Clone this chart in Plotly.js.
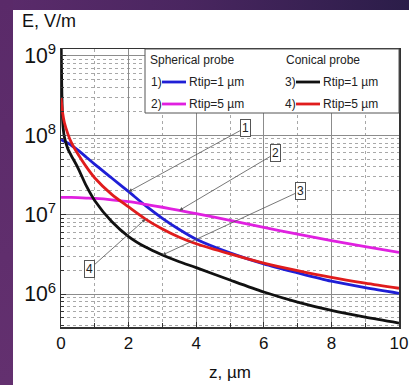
<!DOCTYPE html>
<html><head><meta charset="utf-8">
<script src="https://cdn.plot.ly/plotly-3.0.1.min.js"></script>
<style>
html,body{margin:0;padding:0;width:409px;height:385px;overflow:hidden;}
body{background:linear-gradient(90deg,#5b2b6b 0%,#4a2660 45%,#2b1d49 100%);}
#left{position:absolute;left:0;top:0;width:13px;height:385px;background:linear-gradient(180deg,#5a2a69,#63306f);}
#chart{position:absolute;left:13px;top:10px;width:396px;height:375px;background:#fff;}
</style></head>
<body>
<div id="left"></div>
<div id="chart"></div>
<script>
// ---- data ----
const z = [0, 0.05, 0.1, 0.2, 0.3, 0.5, 0.75, 1, 1.5, 2, 2.5, 3, 3.5, 4, 5, 6, 7, 8, 9, 10];
// 1) spherical probe, Rtip = 1 µm
const sph1 = [8.8e7, 8.6e7, 8.4e7, 8.0e7, 7.5e7, 6.5e7, 5.3e7, 4.3e7, 2.9e7, 1.95e7, 1.3e7, 9.0e6, 6.5e6, 4.9e6, 3.3e6, 2.4e6, 1.85e6, 1.45e6, 1.2e6, 1.02e6];
// 2) spherical probe, Rtip = 5 µm
const sph5 = [1.65e7, 1.65e7, 1.65e7, 1.65e7, 1.65e7, 1.64e7, 1.62e7, 1.6e7, 1.54e7, 1.46e7, 1.35e7, 1.24e7, 1.13e7, 1.03e7, 8.5e6, 6.9e6, 5.7e6, 4.7e6, 3.95e6, 3.35e6];
// 3) conical probe, Rtip = 1 µm
const con1 = [2.5e9, 1.5e8, 9.5e7, 6.8e7, 5.6e7, 3.9e7, 2.3e7, 1.5e7, 8.2e6, 5.3e6, 3.9e6, 3.1e6, 2.55e6, 2.15e6, 1.5e6, 1.06e6, 7.9e5, 6.2e5, 5.1e5, 4.3e5];
// 4) conical probe, Rtip = 5 µm
const con5 = [3.0e8, 1.9e8, 1.45e8, 1.05e8, 8.2e7, 5.8e7, 4.0e7, 2.9e7, 1.8e7, 1.25e7, 8.8e6, 6.6e6, 5.2e6, 4.3e6, 3.2e6, 2.45e6, 1.97e6, 1.62e6, 1.37e6, 1.18e6];
const xTicks = [0, 2, 4, 6, 8, 10];
const legendHeads = ['Spherical probe', 'Conical probe'];
const legendNums = ['1)', '2)', '3)', '4)'];
const legendLabels = ['Rtip=1 µm', 'Rtip=5 µm', 'Rtip=1 µm', 'Rtip=5 µm'];
const calloutTxt = ['1', '2', '3', '4'];

// ---- geometry helpers (page px -> paper) ----
const W = 396, H = 375, L = 48, T = 39, R = 10, B = 58;
const pw = W - L - R, ph = H - T - B;
const px = x => (x - 13 - L) / pw;
const py = y => (10 + T + ph - y) / ph;

const FONT = 'Liberation Sans, Arial, sans-serif';
const colors = ['#1f1fd6', '#e020e0', '#111111', '#e01c1c'];
const series = [sph1, sph5, con1, con5];

const traces = series.map((s, i) => ({
  x: z, y: s, type: 'scatter', mode: 'lines',
  line: {color: colors[i], width: 2.8, shape: 'spline', smoothing: 0.8},
  hoverinfo: 'skip'
}));

const shapes = [];
const annotations = [];

// legend box
shapes.push({type: 'rect', xref: 'paper', yref: 'paper', x0: px(145), x1: px(399), y0: py(113), y1: py(49),
  fillcolor: '#fff', line: {color: '#555', width: 1}, layer: 'above'});
annotations.push({xref: 'paper', yref: 'paper', x: px(148), y: py(60), xanchor: 'left', yanchor: 'middle',
  text: legendHeads[0], showarrow: false, font: {family: FONT, size: 12, color: '#222'}});
annotations.push({xref: 'paper', yref: 'paper', x: px(284), y: py(60), xanchor: 'left', yanchor: 'middle',
  text: legendHeads[1], showarrow: false, font: {family: FONT, size: 12, color: '#222'}});
const legPos = [[149, 82], [149, 104], [283, 82], [283, 104]];
legPos.forEach((p, i) => {
  annotations.push({xref: 'paper', yref: 'paper', x: px(p[0]), y: py(p[1]), xanchor: 'left', yanchor: 'middle',
    text: legendNums[i], showarrow: false, font: {family: FONT, size: 12, color: '#222'}});
  shapes.push({type: 'line', xref: 'paper', yref: 'paper', x0: px(p[0] + 13), x1: px(p[0] + 37), y0: py(p[1]), y1: py(p[1]),
    line: {color: colors[i], width: 2.8}, layer: 'above'});
  annotations.push({xref: 'paper', yref: 'paper', x: px(p[0] + 38), y: py(p[1]), xanchor: 'left', yanchor: 'middle',
    text: legendLabels[i], showarrow: false, font: {family: FONT, size: 12, color: '#222'}});
});

// callouts: [series index, z index, ax, ay]
const callouts = [[0, 9, 117, -64], [1, 12, 96, -57], [2, 11, 138, -64], [3, 10, -56, 50]];
callouts.forEach((c, i) => {
  annotations.push({x: z[c[1]], y: Math.log10(series[c[0]][c[1]]), xref: 'x', yref: 'y',
    ax: c[2], ay: c[3], text: calloutTxt[i], showarrow: true, arrowhead: 2, arrowsize: 0.9, arrowwidth: 0.8,
    arrowcolor: '#555', bordercolor: '#555', borderwidth: 1, borderpad: 1, bgcolor: '#fff',
    font: {family: FONT, size: 12, color: '#222'}});
});

// y-axis title (horizontal, top-left)
annotations.push({xref: 'paper', yref: 'paper', x: px(20), y: py(21), xanchor: 'left', yanchor: 'middle',
  text: 'E, V/m', showarrow: false, font: {family: FONT, size: 18, color: '#111'}});

const layout = {
  width: W, height: H,
  margin: {l: L, r: R, t: T, b: B},
  paper_bgcolor: '#fff', plot_bgcolor: '#fff',
  showlegend: false,
  font: {family: FONT, color: '#111'},
  xaxis: {
    range: [0, 10], tickvals: xTicks, ticktext: xTicks.map(String),
    ticks: 'inside', ticklen: 5, tickcolor: '#333',
    showgrid: true, gridcolor: '#8c8c8c', gridwidth: 1,
    minor: {dtick: 1, tick0: 0, showgrid: true, gridcolor: '#a8a8a8', griddash: '3px,3px', ticks: 'inside', ticklen: 4, tickcolor: '#333'},
    showline: true, linecolor: '#333', linewidth: 1.5, mirror: true, zeroline: false,
    tickfont: {family: FONT, size: 17, color: '#111'},
    title: {text: 'z, µm', font: {family: FONT, size: 17, color: '#111'}, standoff: 14}
  },
  yaxis: {
    type: 'log', range: [5.584, 9.088], dtick: 1, exponentformat: 'power', showexponent: 'all',
    ticks: 'inside', ticklen: 5, tickcolor: '#333',
    showgrid: true, gridcolor: '#8c8c8c', gridwidth: 1,
    minor: {showgrid: true, gridcolor: '#a8a8a8', griddash: '3px,3px', ticks: 'inside', ticklen: 3, tickcolor: '#333'},
    showline: true, linecolor: '#333', linewidth: 1.5, mirror: true, zeroline: false,
    tickfont: {family: FONT, size: 17, color: '#111'}
  },
  shapes: shapes,
  annotations: annotations
};

Plotly.newPlot('chart', traces, layout, {staticPlot: true, displayModeBar: false});
</script>
</body></html>
